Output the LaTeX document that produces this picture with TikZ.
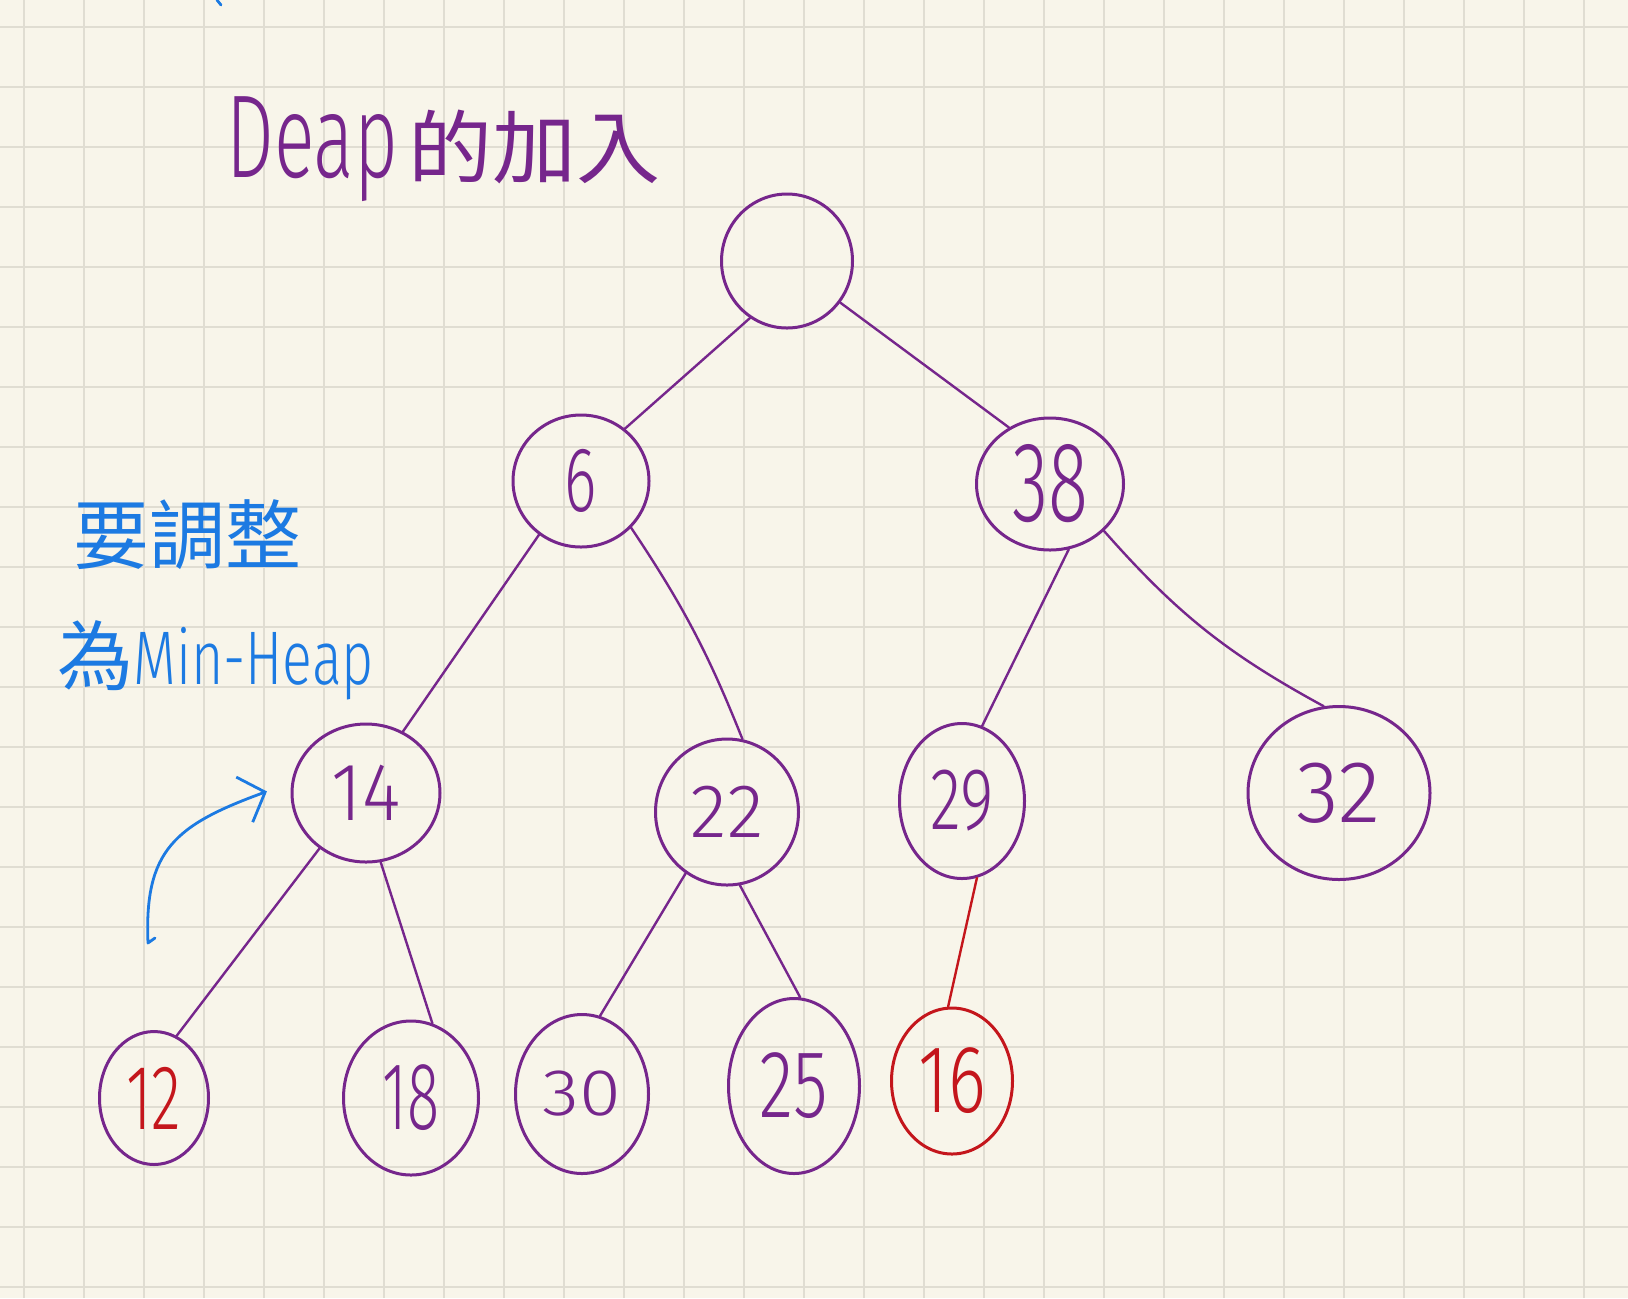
\documentclass[tikz,border=0pt]{standalone}
\usepackage{fontspec}
\usepackage{graphicx}
\usetikzlibrary{shapes.geometric,arrows.meta}
\newfontfamily\cjk{Noto Sans CJK TC}
\newfontfamily\thinf{Fira Sans Light}
\definecolor{paper}{RGB}{248,245,234}
\definecolor{gridc}{RGB}{224,221,210}
\definecolor{ink}{RGB}{118,38,140}
\definecolor{inkred}{RGB}{196,22,28}
\definecolor{inkblue}{RGB}{28,122,226}
\newcommand{\numtxt}[3]{\scalebox{#2}[1]{\fontsize{#1}{#1}\selectfont #3}}
\begin{document}
\begin{tikzpicture}[x=0.5pt,y=-0.5pt,
  gridline/.style={draw=gridc, line width=1pt},
  hnode/.style={ellipse, draw=ink, line width=1.5pt, inner sep=0pt, text=ink, font=\thinf},
  hedge/.style={draw=ink, line width=1.2pt, line cap=round},
  redge/.style={draw=inkred, line width=1.2pt, line cap=round},
  bluepen/.style={draw=inkblue, line width=1.4pt, line cap=round, line join=round}]
\fill[paper] (0,0) rectangle (1628,1298);
\useasboundingbox (0,0) rectangle (1628,1298);
\foreach \i in {0,...,26} \draw[gridline] ({24+60*\i},0) -- ({24+60*\i},1298);
\foreach \j in {0,...,21} \draw[gridline] (0,{26.5+60*\j}) -- (1628,{26.5+60*\j});

% title and notes
\node[anchor=base west, inner sep=0pt, text=ink] (title) at (226,177)
  {\scalebox{0.64}[1]{\thinf\fontsize{59}{59}\selectfont Deap}\hspace{5pt}\scalebox{1.05}[1]{\cjk\fontsize{40}{40}\selectfont 的加入}};
\node[anchor=center, inner sep=0pt, text=inkblue, font={\cjk\fontsize{38}{38}\selectfont}] (note1) at (187,535) {要調整};
\node[anchor=base west, inner sep=0pt, text=inkblue] (note2) at (57,684)
  {{\cjk\fontsize{38}{38}\selectfont 為}\scalebox{0.73}[1]{\thinf\fontsize{38}{38}\selectfont Min-Heap}};

% tree nodes
\node[hnode, minimum width=65.5pt, minimum height=67pt] (root) at (787,261) {};
\node[hnode, minimum width=68pt, minimum height=66pt] (n6) at (581,481) {\numtxt{46}{0.67}{6}};
\node[hnode, minimum width=73.5pt, minimum height=66pt] (n38) at (1050,484) {\numtxt{57}{0.65}{38}};
\node[hnode, minimum width=74pt, minimum height=69pt] (n14) at (366,793) {\numtxt{41}{0.9}{14}};
\node[hnode, minimum width=71.5pt, minimum height=73pt] (n22) at (727,812) {\numtxt{38}{1}{22}};
\node[hnode, minimum width=62.5pt, minimum height=77.5pt] (n29) at (962,801) {\numtxt{44}{0.73}{29}};
\node[hnode, minimum width=91pt, minimum height=86.5pt] (n32) at (1339,793) {\numtxt{44}{1}{32}};
\node[hnode, text=inkred, minimum width=54.5pt, minimum height=66.5pt] (n12) at (154,1098) {\numtxt{46}{0.67}{12}};
\node[hnode, minimum width=67.5pt, minimum height=77pt] (n18) at (411,1098) {\numtxt{48}{0.62}{18}};
\node[hnode, minimum width=66.5pt, minimum height=79.5pt] (n30) at (582,1094) {\numtxt{33}{1.15}{30}};
\node[hnode, minimum width=65.5pt, minimum height=87.5pt] (n25) at (794,1086) {\numtxt{48}{0.74}{25}};
\node[hnode, draw=inkred, text=inkred, minimum width=60.5pt, minimum height=73pt] (n16) at (952,1081) {\numtxt{48}{0.75}{16}};

% edges
\draw[hedge] (root.237) -- (n6.50);
\draw[hedge] (root.322) -- (n38.126);
\draw[hedge] (n6.232) -- (n14.59);
\draw[hedge] (n6.317) to[bend left=6] (n22.78);
\draw[hedge] (n38.286) -- (n29.75);
\draw[hedge] (n38.319) to[bend right=10] (n32.100);
\draw[hedge] (n14.230) -- (n12.70);
\draw[hedge] (n14.282) -- (n18.74);
\draw[hedge] (n22.236) -- (n30.77);
\draw[hedge] (n22.280) -- (n25.86);
\draw[redge] (n29.281) -- (n16.93);

% blue arrow
\coordinate (ahook) at (155,938);
\coordinate (astart) at (148,943);
\draw[bluepen, -{Straight Barb[length=11pt,width=24pt]}, shorten >=13pt]
  (ahook) -- (astart) .. controls (144,850) and (175,825) .. (n14.172);
\draw[bluepen] (217,0) -- (221,5);
\end{tikzpicture}
\end{document}
